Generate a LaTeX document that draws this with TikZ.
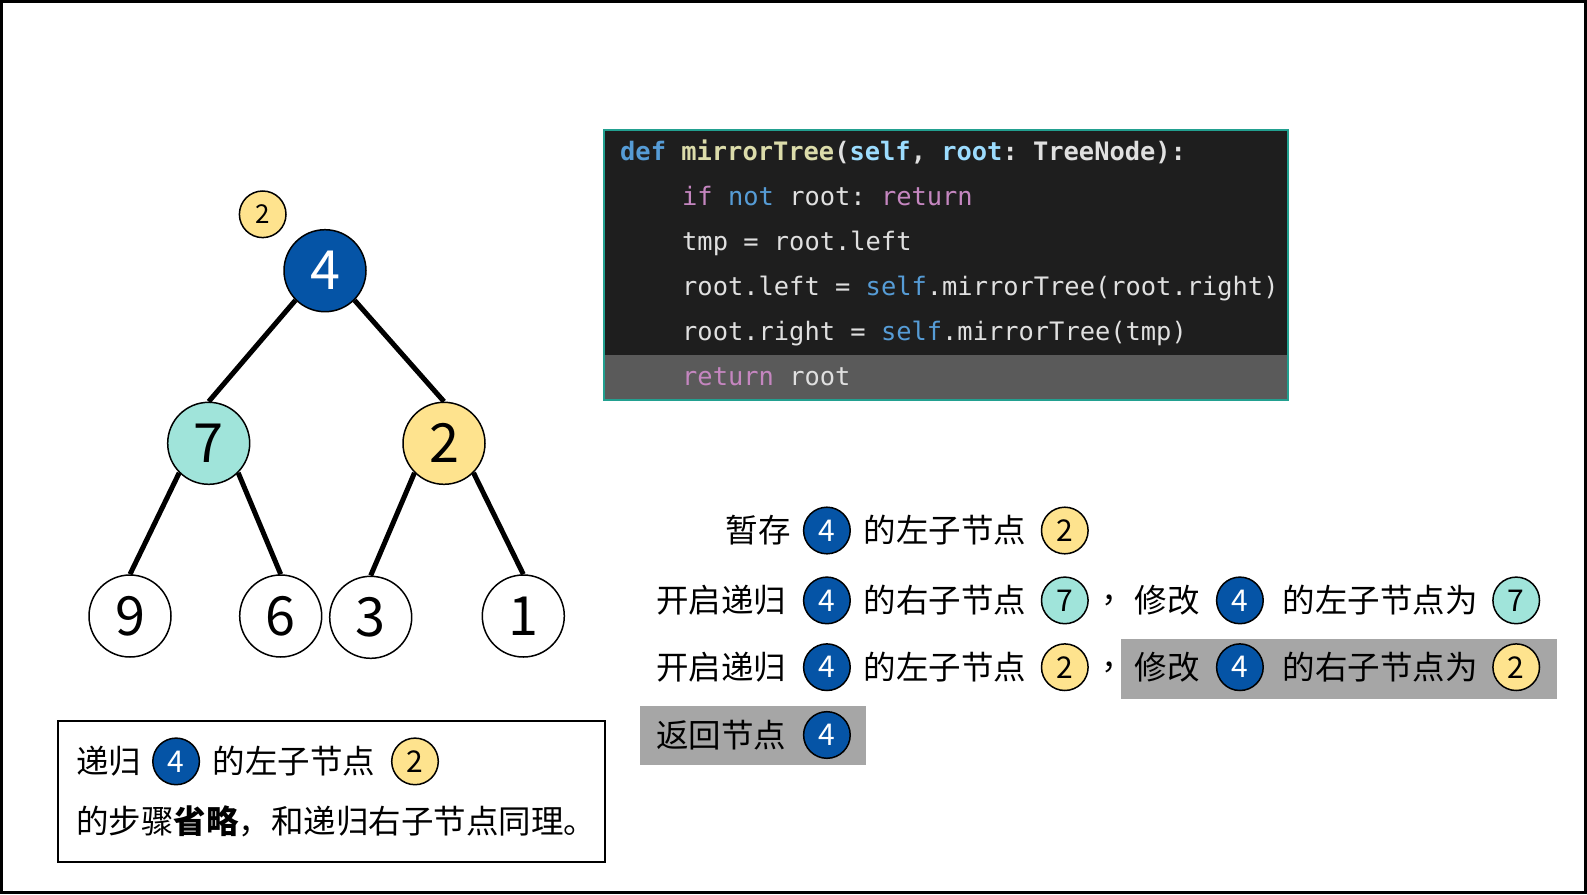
\documentclass[tikz,border=0pt]{standalone}
\usepackage{fontspec}
\setmainfont{Noto Sans CJK SC}
\newfontfamily\codefont{DejaVu Sans Mono}
\definecolor{nblue}{HTML}{0554A6}
\definecolor{nteal}{HTML}{A0E4DA}
\definecolor{nyellow}{HTML}{FEE38E}
\definecolor{codebg}{HTML}{1E1E1E}
\definecolor{codehl}{HTML}{5A5A5A}
\definecolor{codeborder}{HTML}{22A090}
\definecolor{kwblue}{HTML}{569CD6}
\definecolor{fnyellow}{HTML}{DCDCAA}
\definecolor{varblue}{HTML}{9CDCFE}
\definecolor{kwpink}{HTML}{C586C0}
\definecolor{codefg}{HTML}{E0E0E0}
\definecolor{hlgray}{HTML}{A6A6A6}
\begin{document}
\begin{tikzpicture}[x=1pt,y=-1pt,
  treenode/.style={circle, draw, line width=1.5pt, minimum size=82pt, inner sep=0pt, font=\fontsize{54}{54}\selectfont},
  mini/.style={circle, draw, line width=1.5pt, minimum size=46.6pt, inner sep=0pt, font=\fontsize{30}{30}\selectfont},
  edgeline/.style={line width=5pt},
  txt/.style={anchor=west, inner sep=0pt, font=\fontsize{32.5}{32.5}\selectfont},
  codeline/.style={anchor=base west, inner sep=0pt, font=\codefont\frenchspacing\fontsize{25.4}{30}\selectfont, text=codefg},
  graybox/.style={fill=hlgray, draw=none}
]
\useasboundingbox (0,0) rectangle (1587,894);
\draw[line width=3pt] (1.5,1.5) rectangle (1585.5,892.5);

% ---------- tree ----------
\node[treenode, fill=nblue, text=white] (n4) at (325,270.7) {4};
\node[treenode, fill=nteal] (n7) at (208.7,443.3) {7};
\node[treenode, fill=nyellow] (n2) at (444,443.3) {2};
\node[treenode, fill=white] (n9) at (130,616) {9};
\node[treenode, fill=white] (n6) at (280.7,616) {6};
\node[treenode, fill=white] (n3) at (370.7,617.3) {3};
\node[treenode, fill=white] (n1) at (523.3,616) {1};
\node[mini, fill=nyellow, font=\fontsize{26}{26}\selectfont] (tag2) at (262.7,214.3) {2};
\draw[edgeline] (n4.south west) -- (n7.north);
\draw[edgeline] (n4.south east) -- (n2.north);
\draw[edgeline] (n7.south west) -- (n9.north);
\draw[edgeline] (n7.south east) -- (n6.north);
\draw[edgeline] (n2.south west) -- (n3.north);
\draw[edgeline] (n2.south east) -- (n1.north);

% ---------- code ----------
\fill[codebg] (604,129.5) rectangle (1288,399.8);
\fill[codehl] (604,355) rectangle (1288,399.8);
\draw[codeborder, line width=2pt] (604,129.5) rectangle (1288,399.8);
\node[codeline, font=\codefont\frenchspacing\bfseries\fontsize{25.4}{30}\selectfont] (c1) at (620,160) {\textcolor{kwblue}{def} \textcolor{fnyellow}{mirrorTree}(\textcolor{varblue}{self}, \textcolor{varblue}{root}: TreeNode):};
\node[codeline] (c2) at (682,205) {\textcolor{kwpink}{if} \textcolor{kwblue}{not} root: \textcolor{kwpink}{return}};
\node[codeline] (c3) at (682,250) {tmp = root.left};
\node[codeline] (c4) at (682,295) {root.left = \textcolor{kwblue}{self}.mirrorTree(root.right)};
\node[codeline] (c5) at (682,340) {root.right = \textcolor{kwblue}{self}.mirrorTree(tmp)};
\node[codeline] (c6) at (682,385) {\textcolor{kwpink}{return} root};

% ---------- explanation rows ----------
\fill[graybox] (1121.4,638.9) rectangle (1556.6,698.6);
\fill[graybox] (639.7,705.7) rectangle (866.4,765.4);

% row 1
\node[txt] (r1a) at (725.7,530.5) {暂存};
\node[mini, fill=nblue, text=white] (r1b) at (826.9,530.5) {4};
\node[txt] (r1c) at (863.3,530.5) {的左子节点};
\node[mini, fill=nyellow] (r1d) at (1064.8,530.5) {2};
% row 2
\node[txt] (r2a) at (655.9,600.4) {开启递归};
\node[mini, fill=nblue, text=white] (r2b) at (826.9,600.4) {4};
\node[txt] (r2c) at (863.3,600.4) {的右子节点};
\node[mini, fill=nteal] (r2d) at (1064.8,600.4) {7};
\node[txt] (r2e) at (1101,600.4) {，};
\node[txt] (r2f) at (1134.6,600.4) {修改};
\node[mini, fill=nblue, text=white] (r2g) at (1239.9,600.4) {4};
\node[txt] (r2h) at (1282.4,600.4) {的左子节点为};
\node[mini, fill=nteal] (r2i) at (1516.2,600.4) {7};
% row 3
\node[txt] (r3a) at (655.9,667.2) {开启递归};
\node[mini, fill=nblue, text=white] (r3b) at (826.9,667.2) {4};
\node[txt] (r3c) at (863.3,667.2) {的左子节点};
\node[mini, fill=nyellow] (r3d) at (1064.8,667.2) {2};
\node[txt] (r3e) at (1101,667.2) {，};
\node[txt] (r3f) at (1134.6,667.2) {修改};
\node[mini, fill=nblue, text=white] (r3g) at (1239.9,667.2) {4};
\node[txt] (r3h) at (1282.4,667.2) {的右子节点为};
\node[mini, fill=nyellow] (r3i) at (1516.2,667.2) {2};
% row 4
\node[txt] (r4a) at (655.9,735) {返回节点};
\node[mini, fill=nblue, text=white] (r4b) at (826.9,735) {4};

% ---------- note box ----------
\draw[line width=2pt] (57.7,720.6) rectangle (605.2,861.6);
\node[txt] (b1a) at (75.9,761.4) {递归};
\node[mini, fill=nblue, text=white] (b1b) at (176.1,761.4) {4};
\node[txt] (b1c) at (212.5,761.4) {的左子节点};
\node[mini, fill=nyellow] (b1d) at (415,761.4) {2};
\node[txt] (b2) at (75.9,821.1) {的步骤{\bfseries 省略}，和递归右子节点同理。};
\end{tikzpicture}
\end{document}
